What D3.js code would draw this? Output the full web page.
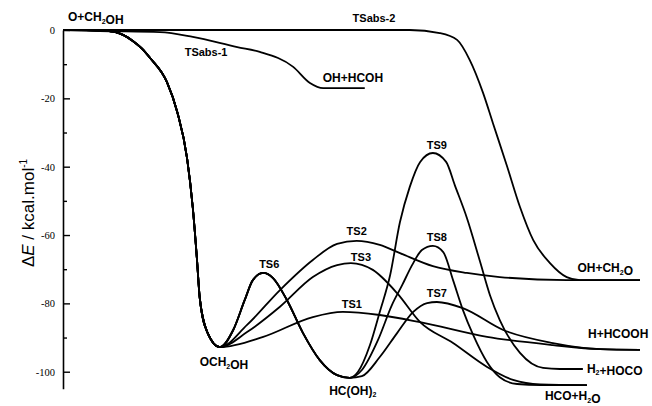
<!DOCTYPE html>
<html>
<head>
<meta charset="utf-8">
<script src="https://cdn.jsdelivr.net/npm/d3@7"></script>
<style>
  body { margin: 0; background: #fff; }
  svg { display: block; }
</style>
</head>
<body>
<svg id="viz" width="652" height="406"></svg>
<script>
// reaction coordinate (0-100) vs energy (kcal/mol)
var entrance = [[0,0],[4.0,-0.02],[6.0,-0.1],[8.0,-0.35],[9.1,-0.6],[10.5,-1.5],[12.1,-3.2],[13.6,-5.3],[15.1,-8.2],[18.0,-15.2],[19.8,-24.0],[21.5,-37.5],[22.5,-52.1],[23.2,-66.7],[23.7,-78.4],[25.0,-88.4],[27.2,-92.8]];
var viaTS1 = [[27.2,-92.8],[34.7,-89.8],[43.3,-84.0],[48.5,-82.5],[54.9,-83.4],[61.9,-85.5],[73.5,-89.8],[84.9,-92.2],[93.1,-93.4],[100,-93.6]];
var viaTS2 = [[27.2,-92.8],[31.9,-86.3],[37.6,-76.1],[43.3,-67.3],[47.5,-62.6],[50.9,-61.7],[54.9,-62.9],[58.4,-65.3],[64.1,-69.1],[70.0,-71.1],[75.7,-72.3],[87.3,-73.2],[100,-73.2]];
var viaTS3 = [[27.2,-92.8],[31.9,-88.4],[37.6,-81.0],[43.3,-72.3],[47.5,-68.8],[49.9,-68.2],[53.7,-70.2],[57.9,-77.0],[61.9,-85.5],[67.6,-91.6],[73.5,-98.6],[78.0,-102.4],[82.7,-103.7],[90.8,-103.9]];
var viaTS6 = [[27.2,-92.8],[29.5,-87.8],[31.5,-79.0],[32.9,-73.2],[34.7,-71.1],[36.4,-72.6],[38.8,-79.0],[41.6,-88.7],[44.5,-96.6],[47.5,-101.0],[49.7,-101.8]];
var viaTS7 = [[49.7,-101.8],[51.8,-101.3],[54.9,-95.7],[57.9,-88.7],[60.7,-82.5],[63.1,-79.9],[64.8,-79.6],[69.3,-81.4],[76.3,-87.8],[84.9,-91.6],[93.1,-93.4],[100,-93.6]];
var viaTS8 = [[49.7,-101.8],[51.8,-99.5],[54.6,-90.7],[57.0,-80.5],[58.8,-74.6],[60.5,-68.8],[62.2,-64.4],[64.1,-63.2],[65.9,-65.0],[67.6,-73.2],[69.3,-81.9],[71.1,-89.3],[73.5,-97.2],[75.7,-101.6],[78.7,-103.6],[82.7,-103.9],[90.8,-103.9]];
var viaTS9 = [[49.7,-101.8],[51.1,-100.1],[53.2,-92.2],[54.9,-82.5],[56.7,-71.7],[58.4,-56.2],[60.1,-45.9],[61.9,-38.6],[64.1,-36.0],[66.4,-38.6],[67.9,-45.4],[70.0,-55.0],[72.3,-67.9],[74.0,-77.6],[75.7,-84.9],[79.2,-94.5],[83.2,-98.9],[86.1,-99.2],[90.1,-99.2]];
var abs1 = [[0,0],[6.4,-0.3],[16.8,-0.6],[22.5,-2.0],[30.2,-5.0],[34.1,-6.4],[39.9,-10.8],[42.8,-15.5],[45.1,-17.0],[52.3,-17.0]];
var abs2 = [[0,0],[60.1,0],[65.3,-0.9],[68.3,-2.9],[70.5,-8.8],[72.8,-18.4],[74.5,-27.2],[77.0,-40.1],[79.2,-51.8],[81.5,-61.5],[84.4,-68.2],[87.3,-72.3],[89.6,-73.2],[100,-73.2]];

// stationary points that carry a label: [text, reaction coordinate, energy]
var species = [
  ["O+CH_2OH", 0, 0],
  ["TSabs-1", 24.8, -2.7],
  ["TSabs-2", 53.9, 0],
  ["OH+HCOH", 52.3, -17.0],
  ["OCH_2OH", 27.2, -92.8],
  ["HC(OH)_2", 49.7, -101.8],
  ["TS6", 34.7, -71.1],
  ["TS1", 48.5, -82.5],
  ["TS2", 50.9, -61.7],
  ["TS3", 49.9, -68.2],
  ["TS7", 64.8, -79.6],
  ["TS8", 64.1, -63.2],
  ["TS9", 64.1, -36.0],
  ["OH+CH_2O", 100, -73.2],
  ["H+HCOOH", 100, -93.6],
  ["H_2+HOCO", 90.1, -99.2],
  ["HCO+H_2O", 90.8, -103.9]
];

var majorTicks = [0, -20, -40, -60, -80, -100];
var minorTicks = [-10, -30, -50, -70, -90];

// label placement: anchor, dx, dy, font size
var placement = {
  "O+CH_2OH": ["start", 5, -9, 12],
  "TSabs-1": ["middle", 0, 17, 11],
  "TSabs-2": ["middle", 0, -8, 11],
  "OH+HCOH": ["start", -42, -6, 12],
  "OCH_2OH": ["middle", 4, 19, 12],
  "HC(OH)_2": ["middle", 3, 17, 12],
  "TS6": ["middle", 6, -5, 11],
  "TS1": ["middle", 9, -4, 11],
  "TS2": ["middle", 0, -6, 11],
  "TS3": ["middle", 10, -2, 11],
  "TS7": ["middle", 0, -5, 11],
  "TS8": ["middle", 4, -5, 11],
  "TS9": ["middle", 4, -4, 11],
  "OH+CH_2O": ["end", -7, -8, 12],
  "H+HCOOH": ["start", -52, -12, 12],
  "H_2+HOCO": ["start", 4, 4, 12],
  "HCO+H_2O": ["start", -42, 15, 12]
};

var svg = d3.select("#viz");

var x = d3.scaleLinear().domain([0, 100]).range([63, 640]);
var y = d3.scaleLinear().domain([0, -105]).range([30, 388.8]);

function join(a, b) { return a.concat(b.slice(1)); }
var pre = join(entrance, viaTS6);
var pathways = [
  join(entrance, viaTS1),
  join(entrance, viaTS2),
  join(entrance, viaTS3),
  join(pre, viaTS7),
  join(pre, viaTS8),
  join(pre, viaTS9),
  abs1,
  abs2
];

var line = d3.line()
  .x(d => x(d[0]))
  .y(d => y(d[1]))
  .curve(d3.curveMonotoneX);

svg.append("g")
  .selectAll("path")
  .data(pathways)
  .enter().append("path")
    .attr("d", line)
    .attr("fill", "none")
    .attr("stroke", "#000")
    .attr("stroke-width", 1.8);

// y axis, ticks pointing inward
var yAxis = svg.append("g")
  .attr("transform", "translate(63,0)")
  .call(d3.axisLeft(y)
    .tickValues(majorTicks)
    .tickSizeInner(-7)
    .tickSizeOuter(0)
    .tickPadding(8)
    .tickFormat(d => d === 0 ? "0" : "-" + Math.abs(d)));
yAxis.select(".domain").attr("stroke-width", 1.6);
yAxis.selectAll(".tick line").attr("stroke-width", 1.4);
yAxis.selectAll("text")
  .attr("font-family", "'Liberation Serif', 'Times New Roman', serif")
  .attr("font-size", 10.5)
  .attr("fill", "#000");

var minor = svg.append("g")
  .attr("transform", "translate(63,0)")
  .call(d3.axisLeft(y).tickValues(minorTicks).tickSizeInner(-4).tickSizeOuter(0).tickFormat(""));
minor.select(".domain").remove();
minor.selectAll(".tick line").attr("stroke-width", 1.4);

// axis title
var title = svg.append("text")
  .attr("transform", "translate(34,213) rotate(-90)")
  .attr("text-anchor", "middle")
  .attr("font-family", "'Liberation Sans', Arial, sans-serif")
  .attr("font-size", 17);
title.append("tspan").text("\u0394");
title.append("tspan").attr("font-style", "italic").text("E");
title.append("tspan").text(" / kcal.mol");
title.append("tspan").attr("font-size", 10).attr("dy", -7).text("-1");

// species / transition state labels, "_2" marks a subscript
var labels = svg.append("g")
  .attr("font-family", "'Liberation Sans', Arial, sans-serif")
  .attr("font-weight", "bold")
  .selectAll("text")
  .data(species)
  .enter().append("text")
    .attr("x", d => x(d[1]) + placement[d[0]][1])
    .attr("y", d => y(d[2]) + placement[d[0]][2])
    .attr("text-anchor", d => placement[d[0]][0])
    .attr("font-size", d => placement[d[0]][3]);

labels.each(function(d) {
  var t = d3.select(this);
  var parts = d[0].split(/_(\d)/);
  parts.forEach(function(p, i) {
    if (!p) return;
    if (i % 2 === 1) {
      t.append("tspan").attr("font-size", 7).attr("dy", 2.5).text(p);
      t.append("tspan").attr("dy", -2.5).text("");
    } else {
      t.append("tspan").text(p);
    }
  });
});
</script>
</body>
</html>
